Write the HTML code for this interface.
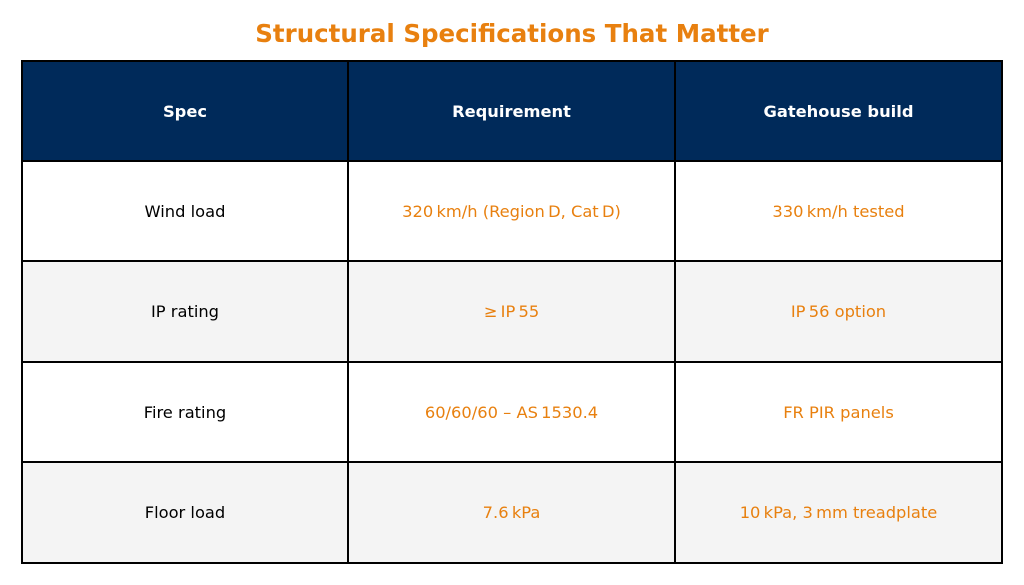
<!DOCTYPE html>
<html><head><meta charset="utf-8"><style>
body{margin:0;width:1024px;height:585px;background:#fff;font-family:"DejaVu Sans","Liberation Sans",sans-serif;position:relative;overflow:hidden}
#title{position:absolute;top:18px;left:0;width:1024px;text-align:center;color:#E8800F;font-weight:bold;font-size:24.5px;line-height:32px}
.c{position:absolute;display:flex;align-items:center;justify-content:center;box-sizing:border-box;border:2px solid #000;font-size:16.3px;color:#000}
.h{background:#002A5A;color:#fff;font-weight:bold}
.o{color:#E8800F}
.g{background:#F4F4F4}
</style></head><body>
<div id="title">Structural Specifications That Matter</div>
<div id="tbl"></div>
<script>
const headers=["Spec","Requirement","Gatehouse build"];
const specs=["Wind load","IP rating","Fire rating","Floor load"];
const requirements=["320\u2009km/h (Region\u2009D, Cat\u2009D)","\u2265\u2009IP\u200955","60/60/60 \u2013 AS\u20091530.4","7.6\u2009kPa"];
const builds=["330\u2009km/h tested","IP\u200956 option","FR PIR panels","10\u2009kPa, 3\u2009mm treadplate"];
const colX=[22,348,675,1002];
const rowY=[61,161,261,362,462,563];
const tbl=document.getElementById('tbl');
function cell(r,c,text,cls){
  const d=document.createElement('div');
  d.className='c '+cls;
  d.style.left=(colX[c]-1)+'px';d.style.top=(rowY[r]-1)+'px';
  d.style.width=(colX[c+1]-colX[c]+2)+'px';d.style.height=(rowY[r+1]-rowY[r]+2)+'px';
  d.textContent=text;
  
  
  tbl.appendChild(d);
}
headers.forEach((h,i)=>cell(0,i,h,'h'));
specs.forEach((s,i)=>{
  const g=(i%2===1)?' g':'';
  cell(i+1,0,s,g);
  cell(i+1,1,requirements[i],'o'+g);
  cell(i+1,2,builds[i],'o'+g);
});
</script>
</body></html>
